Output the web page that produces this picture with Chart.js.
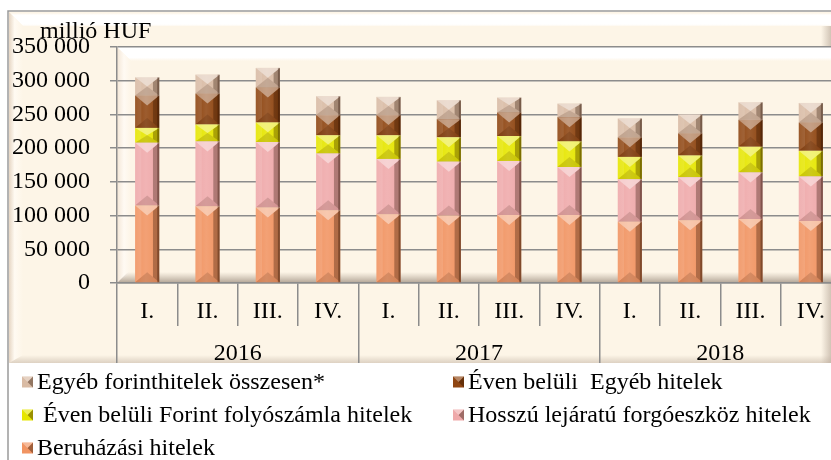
<!DOCTYPE html>
<html>
<head>
<meta charset="utf-8">
<script src="https://cdn.jsdelivr.net/npm/chart.js@4/dist/chart.umd.min.js"></script>
<style>
  html, body { margin: 0; padding: 0; background: #fff; overflow: hidden; }
  #wrap { position: relative; width: 831px; height: 460px; overflow: hidden; }
  canvas { position: absolute; left: 0; top: 0; }
</style>
</head>
<body>
<div id="wrap"><canvas id="chart" width="841" height="460"></canvas></div>
<script>
const quarters = ['I.', 'II.', 'III.', 'IV.', 'I.', 'II.', 'III.', 'IV.', 'I.', 'II.', 'III.', 'IV.'];
const years = ['2016', '2017', '2018'];
const yTicks = [0, 50000, 100000, 150000, 200000, 250000, 300000, 350000];

// millió HUF, alulról felfelé
const beruhazasi = [115000, 114000, 112000, 108000, 102000, 100000, 101000, 101000, 91000, 93000, 95000, 92000];
const hosszu = [93000, 96000, 97000, 84000, 82000, 80000, 80000, 71000, 63000, 64000, 69000, 66000];
const folyoszamla = [22000, 25000, 29000, 27000, 35000, 36000, 37000, 38000, 33000, 32000, 38000, 38000];
const egyebHitelek = [48000, 46000, 52000, 30000, 30000, 27000, 35000, 36000, 29000, 33000, 40000, 42000];
const egyebForint = [27000, 28000, 29000, 28000, 27000, 28000, 22000, 20000, 28000, 28000, 26000, 29000];

const cream = '#fdf5e7';
const gridColor = '#8c8c8c';
const font = 'Liberation Serif';
const fontSize = 24;

function fmt(v) {
    return String(v).replace(/\B(?=(\d{3})+(?!\d))/g, ' ');
}

function poly(ctx, pts, fill) {
    ctx.beginPath();
    ctx.moveTo(pts[0][0], pts[0][1]);
    for (let i = 1; i < pts.length; i++) ctx.lineTo(pts[i][0], pts[i][1]);
    ctx.closePath();
    ctx.fillStyle = fill;
    ctx.fill();
}

// háttér + keretek domború hatással
const framePlugin = {
    id: 'frame',
    beforeDraw(chart) {
        const ctx = chart.ctx;
        const W = chart.width;
        const a = chart.chartArea;
        const bottom = chart.scales.x2.bottom;
        ctx.save();
        ctx.fillStyle = '#fff';
        ctx.fillRect(0, 0, W, chart.height);

        // külső keret
        ctx.fillStyle = cream;
        ctx.fillRect(9, 12, W, bottom - 12);
        let g = ctx.createLinearGradient(0, 13, 0, 27);
        g.addColorStop(0, cream);
        g.addColorStop(0.15, '#ffffff');
        g.addColorStop(0.8, '#ffffff');
        g.addColorStop(1, cream);
        poly(ctx, [[9, 12], [W, 12], [W, 26], [23, 26]], g);
        g = ctx.createLinearGradient(9, 0, 23, 0);
        g.addColorStop(0, '#e6d6c4');
        g.addColorStop(0.4, '#fffaf2');
        g.addColorStop(1, cream);
        poly(ctx, [[9, 12], [23, 26], [23, bottom - 8], [9, bottom]], g);
        g = ctx.createLinearGradient(0, bottom - 8, 0, bottom);
        g.addColorStop(0, 'rgba(200,185,170,0)');
        g.addColorStop(1, 'rgba(200,185,170,0.6)');
        poly(ctx, [[9, bottom], [23, bottom - 8], [W, bottom - 8], [W, bottom]], g);
        g = ctx.createLinearGradient(821, 0, 831, 0);
        g.addColorStop(0, 'rgba(190,175,160,0)');
        g.addColorStop(1, 'rgba(190,175,160,0.7)');
        ctx.fillStyle = g;
        ctx.fillRect(821, 26, 10, bottom - 26);

        ctx.strokeStyle = '#9a9a9a';
        ctx.lineWidth = 1.5;
        ctx.beginPath();
        ctx.moveTo(8, chart.height);
        ctx.lineTo(8, 11);
        ctx.lineTo(W, 11);
        ctx.stroke();

        // rajzterület
        const L = a.left, T = a.top, R = a.right, B = a.bottom;
        ctx.fillStyle = cream;
        ctx.fillRect(L, T, R - L, B - T);
        g = ctx.createLinearGradient(0, T, 0, T + 14);
        g.addColorStop(0, '#ffffff');
        g.addColorStop(0.75, '#ffffff');
        g.addColorStop(1, cream);
        poly(ctx, [[L, T], [R, T], [R, T + 14], [L + 14, T + 14]], g);
        g = ctx.createLinearGradient(L, 0, L + 14, 0);
        g.addColorStop(0, '#f3e6d6');
        g.addColorStop(0.5, '#fffaf3');
        g.addColorStop(1, cream);
        poly(ctx, [[L, T], [L + 14, T + 14], [L + 14, B - 10], [L, B]], g);
        g = ctx.createLinearGradient(0, B - 11, 0, B);
        g.addColorStop(0, 'rgba(170,155,140,0)');
        g.addColorStop(1, 'rgba(150,135,120,0.75)');
        poly(ctx, [[L, B], [L + 11, B - 11], [R, B - 11], [R, B]], g);
        ctx.restore();
    }
};

// oszlopok fazettázása
const bevelPlugin = {
    id: 'bevel',
    afterDatasetsDraw(chart) {
        const ctx = chart.ctx;
        ctx.save();
        chart.data.datasets.forEach((ds, i) => {
            const meta = chart.getDatasetMeta(i);
            meta.data.forEach(bar => {
                const p = bar.getProps(['x', 'y', 'base', 'width'], true);
                const l = p.x - p.width / 2, r = p.x + p.width / 2;
                const t = Math.min(p.y, p.base), b = Math.max(p.y, p.base);
                const h = b - t;
                if (h < 1) return;
                const d = Math.min(10, h / 2);
                const sw = p.width * 0.26;
                const sd = d * sw / (p.width / 2);
                // középső világos sáv
                const g = ctx.createLinearGradient(l, 0, r, 0);
                g.addColorStop(0, 'rgba(255,255,255,0)');
                g.addColorStop(0.45, 'rgba(255,255,255,0.12)');
                g.addColorStop(1, 'rgba(255,255,255,0)');
                ctx.fillStyle = g;
                ctx.fillRect(l, t, p.width, h);
                // bal oldal
                poly(ctx, [[l, t], [l + sw, t + sd], [l + sw, b - sd], [l, b]], 'rgba(255,255,255,0.1)');
                // jobb oldal
                poly(ctx, [[r, t], [r - sw, t + sd], [r - sw, b - sd], [r, b]], 'rgba(40,15,0,0.32)');
                // alsó háromszög
                poly(ctx, [[l, b], [r, b], [p.x, b - d]], 'rgba(40,15,0,0.14)');
                // felső háromszög
                poly(ctx, [[l, t], [r, t], [p.x, t + d]], 'rgba(255,255,255,0.42)');
                // sötét szél
                ctx.fillStyle = 'rgba(40,15,0,0.35)';
                ctx.fillRect(r - 2, t, 2, h);
            });
        });
        ctx.restore();
    }
};

// cím és jelmagyarázat
const textPlugin = {
    id: 'texts',
    afterDraw(chart) {
        const ctx = chart.ctx;
        const a = chart.chartArea;
        ctx.save();
        ctx.fillStyle = '#000';
        ctx.font = fontSize + 'px "' + font + '"';
        ctx.textBaseline = 'middle';
        ctx.textAlign = 'left';
        ctx.fillText('millió HUF', a.left - 77, a.top - 15);

        const items = chart.data.datasets.slice().reverse();
        const top = chart.scales.x2.bottom;
        items.forEach((ds, k) => {
            const col = k % 2, row = Math.floor(k / 2);
            const x = 22 + col * 431;
            const y = top + 19 + row * 33;
            const s = 11;
            ctx.fillStyle = ds.backgroundColor;
            ctx.fillRect(x, y - s / 2, s, s);
            poly(ctx, [[x + s, y - s / 2], [x + s, y + s / 2], [x + s / 2, y]], 'rgba(40,15,0,0.4)');
            poly(ctx, [[x, y - s / 2], [x + s, y - s / 2], [x + s / 2, y]], 'rgba(255,255,255,0.35)');
            ctx.fillStyle = '#000';
            ctx.fillText(ds.label, x + s + 4, y + 1);
        });
        ctx.restore();
    }
};

const ctx = document.getElementById('chart').getContext('2d');
new Chart(ctx, {
    type: 'bar',
    data: {
        labels: quarters,
        datasets: [
            { label: 'Beruházási hitelek', data: beruhazasi, backgroundColor: '#f19462' },
            { label: 'Hosszú lejáratú forgóeszköz hitelek', data: hosszu, backgroundColor: '#efa9aa' },
            { label: ' Éven belüli Forint folyószámla hitelek', data: folyoszamla, backgroundColor: '#e6e600' },
            { label: 'Éven belüli  Egyéb hitelek', data: egyebHitelek, backgroundColor: '#8f4612' },
            { label: 'Egyéb forinthitelek összesen*', data: egyebForint, backgroundColor: '#d9bba4' },
        ].map(ds => Object.assign(ds, {
            barPercentage: 0.4,
            categoryPercentage: 1,
            borderWidth: 0,
            xAxisID: 'x',
        })),
    },
    options: {
        responsive: false,
        animation: false,
        devicePixelRatio: 1,
        layout: { padding: { left: 0, top: 47, right: 0, bottom: 97 } },
        plugins: {
            legend: { display: false },
            tooltip: { enabled: false },
        },
        scales: {
            x: {
                stacked: true,
                offset: true,
                grid: { offset: true, drawOnChartArea: false, drawTicks: true, tickLength: 43, color: gridColor, lineWidth: 1.5 },
                border: { display: true, color: gridColor, width: 1.5 },
                ticks: { color: '#000', font: { family: font, size: fontSize }, padding: -29, maxRotation: 0, autoSkip: false },
                afterFit(scale) { scale.height = 43; },
            },
            x2: {
                type: 'category',
                labels: years,
                position: 'bottom',
                offset: true,
                grid: { offset: true, drawOnChartArea: false, drawTicks: true, tickLength: 37, color: gridColor, lineWidth: 1.5 },
                border: { display: false },
                ticks: { color: '#000', font: { family: font, size: fontSize }, padding: -24, maxRotation: 0 },
                afterFit(scale) { scale.height = 37; },
            },
            y: {
                stacked: true,
                min: 0,
                max: 350000,
                afterBuildTicks(scale) { scale.ticks = yTicks.map(v => ({ value: v })); },
                grid: { color: gridColor, lineWidth: 1.5, tickLength: 7 },
                border: { color: gridColor, width: 1.5 },
                ticks: { color: '#000', font: { family: font, size: fontSize }, padding: 20, callback: v => fmt(v) },
                afterFit(scale) { scale.width = 117; },
            },
        },
    },
    plugins: [framePlugin, bevelPlugin, textPlugin],
});
</script>
</body>
</html>
